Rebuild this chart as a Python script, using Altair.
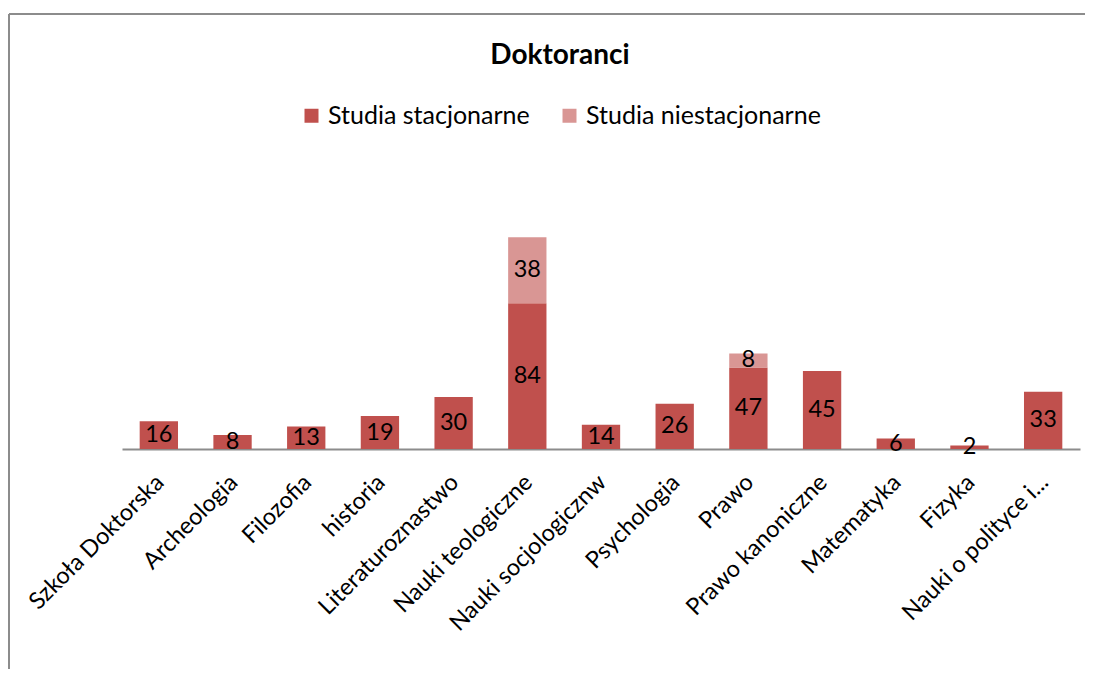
import altair as alt
import pandas as pd

categories = ["Szkoła Doktorska", "Archeologia", "Filozofia", "historia",
              "Literaturoznastwo", "Nauki teologiczne", "Nauki socjologicznw",
              "Psychologia", "Prawo", "Prawo kanoniczne", "Matematyka", "Fizyka",
              "Nauki o polityce i..."]
stacjonarne = [16, 8, 13, 19, 30, 84, 14, 26, 47, 45, 6, 2, 33]
niestacjonarne = [0, 0, 0, 0, 0, 38, 0, 0, 8, 0, 0, 0, 0]
series = ["Studia stacjonarne", "Studia niestacjonarne"]
colors = ["#C0504D", "#D99694"]

rows = []
for c, a, b in zip(categories, stacjonarne, niestacjonarne):
    rows.append({"kat": c, "seria": series[0], "val": a, "ord": 0})
    rows.append({"kat": c, "seria": series[1], "val": b, "ord": 1})
df = pd.DataFrame(rows)

FONT = "Lato"
FS = 23.5

xenc = alt.X("kat:N", sort=categories, title=None,
             scale=alt.Scale(paddingInner=0.48, paddingOuter=0.24),
             axis=alt.Axis(labelAngle=-45, labelFontSize=FS, labelFont=FONT,
                           labelColor="black", ticks=False, domainColor="#8c8c8c",
                           domainWidth=2, labelPadding=21, labelLimit=400,
                           labelOffset=-7,
                           labelAlign="right", labelBaseline="top"))

base = alt.Chart(df)

bars = base.mark_bar().encode(
    x=xenc,
    y=alt.Y("val:Q", stack="zero", scale=alt.Scale(domain=[0, 140]), axis=None),
    color=alt.Color("seria:N", sort=series,
                    scale=alt.Scale(domain=series, range=colors),
                    legend=alt.Legend(title=None, orient="none", direction="horizontal",
                                      legendX=177, legendY=-103, labelFontSize=25,
                                      labelFont=FONT, labelColor="black",
                                      labelLimit=400,
                                      symbolType="square", symbolSize=196,
                                      symbolStrokeWidth=0, columnPadding=27,
                                      labelOffset=4)),
    order=alt.Order("ord:Q"),
)

texts = base.transform_stack(
    stack="val", groupby=["kat"], sort=[alt.SortField("ord")], as_=["v0", "v1"]
).transform_filter("datum.val > 0").transform_calculate(
    mid="(datum.v0 + datum.v1) / 2"
).mark_text(fontSize=FS, font=FONT, color="black", baseline="middle").encode(
    x=alt.X("kat:N", sort=categories),
    y=alt.Y("mid:Q"),
    text=alt.Text("val:Q"),
)

one = alt.Chart(pd.DataFrame({"a": [0]}))
title = one.mark_text(text="Doktoranci", fontSize=28, fontWeight="bold", font=FONT,
                      color="black", baseline="middle").encode(
    x=alt.value(438), y=alt.value(-150))
top_line = one.mark_rule(color="#8c8c8c", strokeWidth=2).encode(
    x=alt.value(-113), x2=alt.value(980), y=alt.value(-192))
left_line = one.mark_rule(color="#8c8c8c", strokeWidth=2).encode(
    x=alt.value(-113), y=alt.value(-192), y2=alt.value(480))

chart = alt.layer(bars, texts, title, top_line, left_line).properties(
    width=958, height=243,
    autosize=alt.AutoSizeParams(type="none"),
    padding={"left": 114, "top": 198, "right": 5, "bottom": 220},
).configure_view(stroke=None)

chart.save("out.html", embed_options={"renderer": "svg", "actions": False})
